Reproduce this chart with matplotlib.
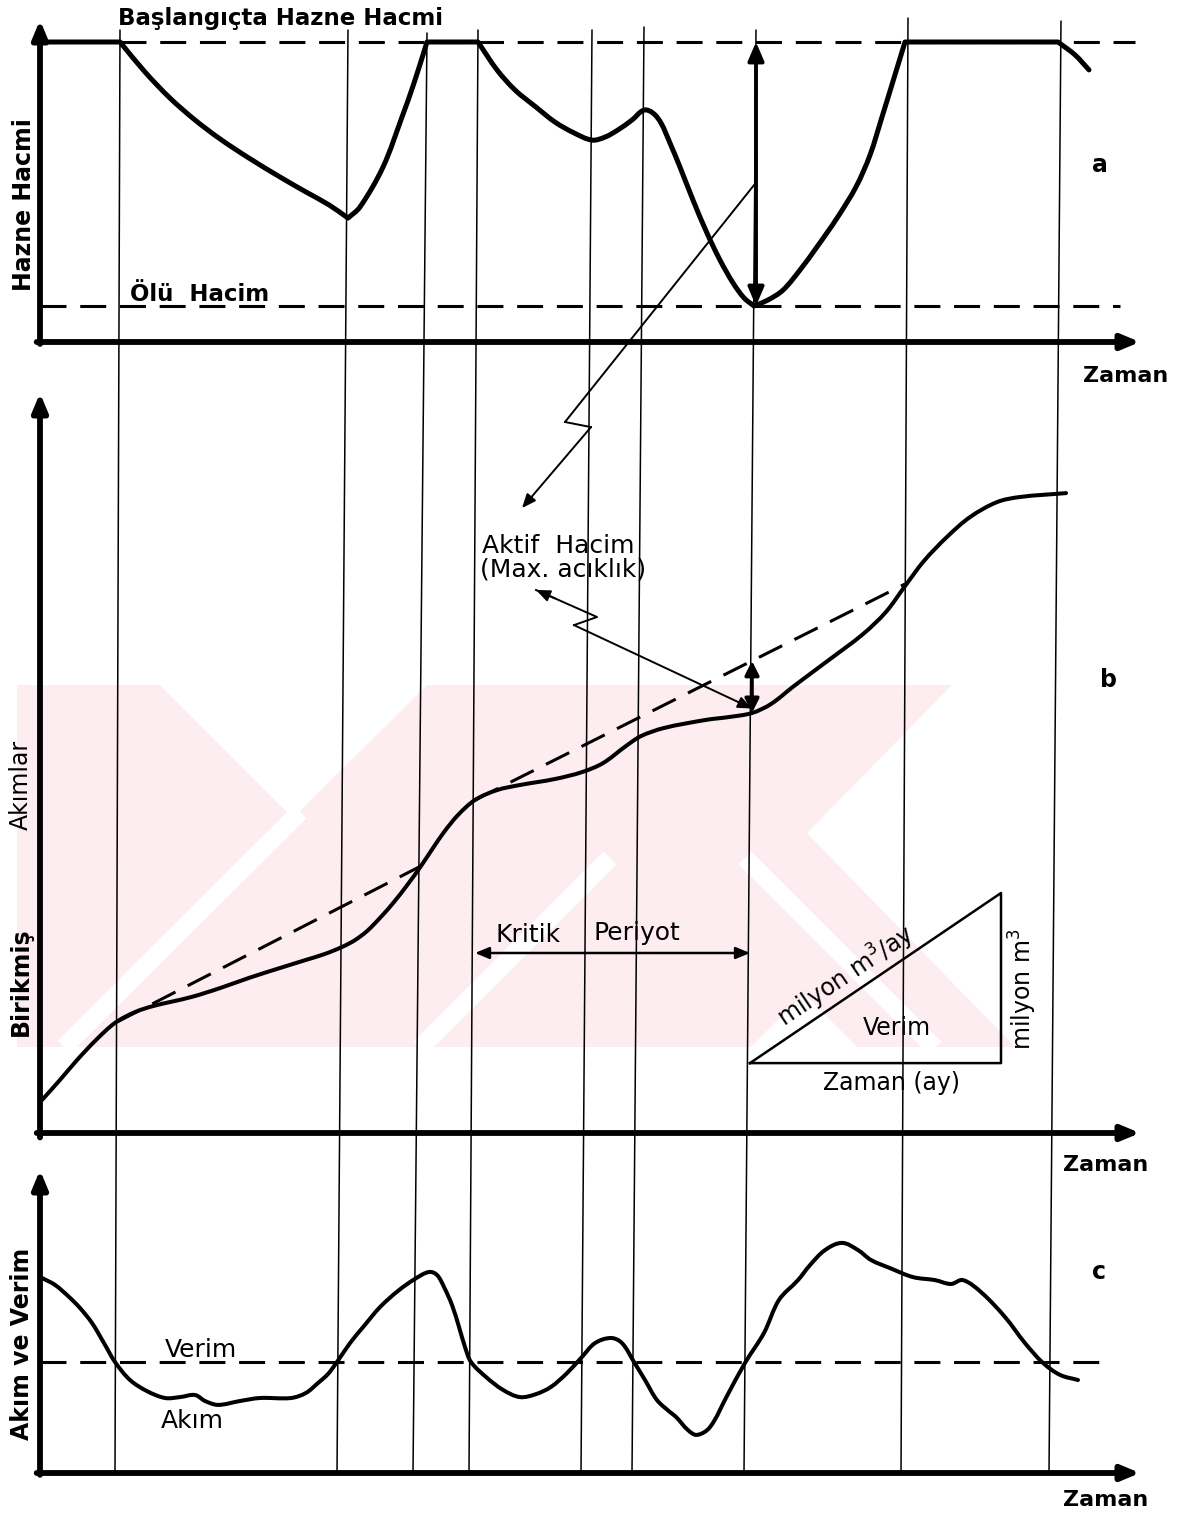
import numpy as np
import matplotlib.pyplot as plt
from matplotlib.patches import ConnectionPatch, PathPatch, Polygon
from matplotlib.path import Path

plt.rcParams['font.family'] = ['DejaVu Sans']

# ortak zaman ekseni (0-110 birim)
# dönüm noktalarından geçen ince düşey çizgiler: üst panelde ve alt panelde
donum_ust = [8.0, 30.8, 38.7, 43.8, 55.2, 60.4, 71.6, 86.8, 102.1]
donum_alt = [7.5, 29.7, 37.3, 42.9, 54.1, 59.2, 70.4, 86.1, 100.9]
donum_tepe = [104, 104, 103, 104, 104, 105, 104, 108, 107]

# a) hazne hacmi
DOLU = 100
OLU = 12
hazne_t = [0, 8.0, 10.5, 13.0, 15.5, 18.0, 20.9, 24.0, 26.6, 28.9,
           30.8, 32.0, 34.3, 36.2, 37.4, 38.7, 43.8, 45.7, 47.5, 49.6,
           51.5, 53.4, 55.2, 56.5, 57.8, 59.2, 60.4, 61.3, 62.1, 63.0,
           64.0, 65.3, 66.7, 68.0, 69.3, 70.4, 71.4, 72.8, 74.3, 76.0,
           77.7, 79.7, 81.6, 83.0, 84.2, 85.4, 86.5, 101.8, 103.5, 104.9]
hazne_v = [100, 100, 90, 81.3, 74, 67.7, 61.3, 55, 50, 45.7,
           41.3, 45, 58.3, 75, 86.3, 100, 100, 90.7, 84, 78.3,
           73.3, 69.7, 67.3, 68.3, 70.7, 74, 77.3, 76.3, 73, 66.3,
           58.3, 47.3, 36.3, 27.3, 19.7, 14.7, 12, 14, 17.3, 24,
           31.7, 41.3, 51.7, 62.3, 75, 88, 100, 100, 95.7, 90.7]
hazne_kose = [1, 10, 15, 16, 36, 46, 47]

# b) birikmiş akımlar (kütle eğrisi)
birikmis_t = [0.2, 2.0, 3.7, 5.6, 7.5, 9.5, 11.3, 15.1, 18.0, 20.9,
              24.0, 26.6, 28.5, 30.2, 31.5, 32.7, 34.0, 35.4, 36.8, 38.1,
              39.3, 40.4, 41.8, 43.5, 45.7, 48.0, 51.5, 54.2, 56.3, 58.6,
              60.1, 62.4, 66.6, 69.0, 71.2, 73.1, 75.4, 78.9, 82.3, 84.6,
              86.5, 88.4, 90.7, 93.0, 95.7, 98.0, 102.6]
birikmis_v = [11, 17.7, 24.3, 31, 36.7, 40.3, 42.3, 45.3, 48.3, 51.7,
              55, 57.7, 59.7, 62, 64.3, 67.3, 71.7, 77, 83, 89,
              95, 100.3, 106, 111, 114.3, 116, 118, 120.3, 123.3, 129,
              132.3, 135, 137.7, 138.7, 140, 143, 149, 157.7, 166.3, 173.7,
              182.3, 190.7, 198.7, 205.3, 210.3, 212, 213.3]
# verim doğruları (teğetler)
teget1_t = [7.7, 38.1]
teget1_v = [37, 89]
teget2_t = [43.5, 86.5]
teget2_v = [111, 183]
kritik_t = [43.5, 71.0]
aciklik_t = 71.2

# verim üçgeni
ucgen_t = [71.0, 96.1, 96.1, 71.0]
ucgen_v = [23.3, 23.3, 80.0, 23.3]

# c) akım ve verim
VERIM = 37
akim_t = [0.2, 1.5, 2.9, 4.0, 5.2, 6.4, 7.5, 9.0, 10.7, 12.5,
          14.0, 15.5, 16.5, 17.8, 20.0, 22.0, 25.1, 26.6, 27.8, 28.8,
          29.7, 31.0, 32.4, 34.0, 35.8, 37.5, 38.9, 39.7, 40.4, 41.2,
          41.9, 42.5, 43.1, 44.6, 46.3, 48.0, 49.6, 51.1, 52.7, 54.2,
          55.5, 57.1, 58.2, 59.4, 60.5, 61.7, 63.0, 63.6, 64.8, 65.7,
          67.0, 68.7, 70.5, 72.4, 73.9, 75.8, 77.0, 78.5, 80.2, 81.8,
          83.1, 85.0, 87.3, 89.5, 91.1, 92.3, 94.2, 96.5, 98.5, 100.3,
          102.0, 103.8]
akim_v = [65, 62.7, 58.7, 55, 50, 43.3, 37, 31, 27.3, 25,
          25.3, 26, 24, 22.7, 24, 25, 25, 26.7, 30, 33,
          37, 43.3, 49, 55.3, 60.7, 64.7, 67, 66, 62, 56,
          48.7, 42, 37, 32, 27.7, 25.3, 26.3, 28.7, 33.3, 38.7,
          43.3, 45, 43.3, 37, 31, 24.3, 20.3, 18.7, 14.3, 12.7,
          15.3, 25.7, 36.7, 46.7, 57.7, 64.3, 69.3, 74.3, 76.7, 74.3,
          71, 68.3, 65.3, 64.3, 63, 64.3, 60, 52, 43.3, 36.7,
          32.7, 31]

W, H = 1185, 1514
fig = plt.figure(figsize=(W / 100, H / 100), dpi=100)
fig.patch.set_facecolor('white')

# arka plandaki soluk pembe damga (piksel koordinatlarında)
bg = fig.add_axes([0, 0, 1, 1], zorder=-1)
bg.set_xlim(0, W)
bg.set_ylim(H, 0)
bg.set_axis_off()
PEMBE = '#fdedf0'
bg.add_patch(Polygon([(17, 685), (1020, 685), (1020, 1047), (17, 1047)],
                     closed=True, fc=PEMBE, ec='none'))
for ucgen in ([(160, 685), (427, 685), (293, 818)],
              [(952, 685), (1025, 685), (1025, 1050), (1018, 1050), (807, 833)],
              [(748, 1050), (860, 1050), (804, 994)]):
    bg.add_patch(Polygon(ucgen, closed=True, fc='white', ec='none'))
for x, y in (([300, 64], [812, 1047]), ([745, 935], [858, 1048]),
             ([610, 420], [858, 1048])):
    bg.plot(x, y, color='white', lw=13, solid_capstyle='butt')


def panel(alt, ust):
    ax = fig.add_axes([40 / W, (H - alt) / H, 1100 / W, (alt - ust) / H])
    ax.set_xlim(0, 110)
    ax.set_ylim(0, (alt - ust) / 3)
    ax.set_axis_off()
    # eksenler oklu
    ok = dict(arrowstyle='-|>,head_length=0.6,head_width=0.25', mutation_scale=18,
              lw=4.2, color='k', shrinkA=0, shrinkB=0)
    ax.annotate('', xy=(1, 0), xytext=(-0.003, 0), xycoords='axes fraction',
                arrowprops=ok, annotation_clip=False)
    ax.annotate('', xy=(0, 1), xytext=(0, -0.006), xycoords='axes fraction',
                arrowprops=ok, annotation_clip=False)
    return ax


def yumusak(ax, t, v, koseler=(), **kw):
    # noktalardan geçen elle çizilmiş gibi yumuşak eğri (kübik Bezier)
    p = np.column_stack([t, v]) * [10.0, 3.0]
    n = len(p)
    birim = lambda d: d / np.linalg.norm(d)
    d_in = np.zeros_like(p)
    d_out = np.zeros_like(p)
    for i in range(n):
        if i == 0:
            d_in[i] = d_out[i] = birim(p[1] - p[0])
        elif i == n - 1:
            d_in[i] = d_out[i] = birim(p[-1] - p[-2])
        elif i in koseler:
            d_in[i] = birim(p[i] - p[i - 1])
            d_out[i] = birim(p[i + 1] - p[i])
        else:
            d_in[i] = d_out[i] = birim(p[i + 1] - p[i - 1])
    verts = [p[0]]
    codes = [Path.MOVETO]
    for i in range(n - 1):
        L = np.linalg.norm(p[i + 1] - p[i]) / 3
        verts += [p[i] + d_out[i] * L, p[i + 1] - d_in[i + 1] * L, p[i + 1]]
        codes += [Path.CURVE4] * 3
    verts = np.array(verts) / [10.0, 3.0]
    ax.add_patch(PathPatch(Path(verts, codes), fill=False, capstyle='round',
                           joinstyle='round', clip_on=False, zorder=3, **kw))


ax_a = panel(342, 20)
ax_b = panel(1133, 393)
ax_c = panel(1473, 1170)

kesik = dict(color='k', lw=2.2, dashes=(8.5, 4.5), clip_on=False)
ince = dict(color='k', lw=1.4, clip_on=False)
yazi = dict(fontsize=18, color='k')
kalin = dict(fontsize=17, fontweight='bold', color='k')
kucuk_ok = dict(arrowstyle='-|>,head_length=0.6,head_width=0.25',
                mutation_scale=14, lw=1.4, color='k', shrinkA=0, shrinkB=0)

# düşey çizgiler: üst panelden alt panele
for tu, ta, tp in zip(donum_ust, donum_alt, donum_tepe):
    cp = ConnectionPatch(xyA=(tu, tp), coordsA=ax_a.transData,
                         xyB=(ta, 0), coordsB=ax_c.transData,
                         color='k', lw=1.1, zorder=1)
    fig.add_artist(cp)

# ---- a) hazne hacmi ----
ax_a.plot([8.0, 109.5], [DOLU, DOLU], **kesik)
ax_a.plot([0, 108], [OLU, OLU], **kesik)
yumusak(ax_a, hazne_t, hazne_v, hazne_kose, edgecolor='k', lw=3.6)
ax_a.annotate('', xy=(71.6, OLU), xytext=(71.6, DOLU),
              arrowprops=dict(arrowstyle='<|-|>,head_length=0.7,head_width=0.3',
                              mutation_scale=16, lw=2.8, color='k',
                              shrinkA=0, shrinkB=0))
ax_a.text(7.8, 108, 'Başlangıçta Hazne Hacmi', ha='left', va='center',
          fontsize=16.5, fontweight='bold')
ax_a.text(9.0, 13.7, 'Ölü  Hacim', ha='left', va='baseline', fontsize=16.5,
          fontweight='bold')
ax_a.text(-1.6, 45.7, 'Hazne Hacmi', rotation=90, ha='center', va='center', **kalin)
ax_a.text(104.3, -13.3, 'Zaman', ha='left', va='baseline', fontsize=16,
          fontweight='bold')
ax_a.text(106, 59, 'a', ha='center', va='center', fontsize=17, fontweight='bold')

# aktif hacim oku: a panelinden b panelindeki yazıya
cp = ConnectionPatch(xyA=(71.4, 52.3), coordsA=ax_a.transData,
                     xyB=(52.5, 237), coordsB=ax_b.transData, color='k', lw=1.4)
fig.add_artist(cp)
ax_b.plot([52.5, 55.1], [237, 235.3], **ince)
ax_b.annotate('', xy=(48.2, 208.3), xytext=(55.1, 235.3), arrowprops=kucuk_ok)

# ---- b) birikmiş akımlar ----
ax_b.plot(teget1_t, teget1_v, **kesik)
ax_b.plot(teget2_t, teget2_v, **kesik)
yumusak(ax_b, birikmis_t, birikmis_v, edgecolor='k', lw=2.9)

ust = np.interp(aciklik_t, teget2_t, teget2_v)
alt = np.interp(aciklik_t, birikmis_t, birikmis_v)
ax_b.annotate('', xy=(aciklik_t, alt), xytext=(aciklik_t, ust),
              arrowprops=dict(arrowstyle='<|-|>,head_length=0.6,head_width=0.3',
                              mutation_scale=14, lw=2.6, color='k',
                              shrinkA=0, shrinkB=0))
# maksimum açıklık oku
ax_b.plot([49.6, 55.7, 53.4], [181, 172, 169.3], **ince)
ax_b.annotate('', xy=(49.6, 181), xytext=(51.5, 178.2), arrowprops=kucuk_ok)
ax_b.annotate('', xy=(aciklik_t, alt + 1.5), xytext=(53.4, 169.3),
              arrowprops=kucuk_ok)
ax_b.text(44.2, 193.3, 'Aktif  Hacim', ha='left', va='baseline', **yazi)
ax_b.text(44.0, 185.5, '(Max. acıklık)', ha='left', va='baseline', **yazi)

# kritik periyot
ax_b.annotate('', xy=(kritik_t[1], 60), xytext=(kritik_t[0], 60),
              arrowprops=dict(arrowstyle='<|-|>,head_length=0.6,head_width=0.25',
                              mutation_scale=14, lw=1.8, color='k',
                              shrinkA=0, shrinkB=0))
ax_b.text(45.6, 63.7, 'Kritik', ha='left', va='baseline', **yazi)
ax_b.text(55.3, 64.3, 'Periyot', ha='left', va='baseline', **yazi)

# verim üçgeni
ax_b.plot(ucgen_t, ucgen_v, color='k', lw=1.8, clip_on=False)
ax_b.text(80.6, 52.3, 'milyon m$^{3}$/ay', rotation=34, rotation_mode='anchor',
          ha='center', va='center', fontsize=17)
ax_b.text(82.3, 32.7, 'Verim', ha='left', va='baseline', fontsize=17)
ax_b.text(78.3, 14.3, 'Zaman (ay)', ha='left', va='baseline', fontsize=17)
ax_b.text(98.3, 48, 'milyon m$^{3}$', rotation=90, ha='center', va='center',
          fontsize=17)

ax_b.text(-1.9, 50.3, 'Birikmiş', rotation=90, ha='center', va='center', **kalin)
ax_b.text(-1.9, 116, 'Akımlar', rotation=90, ha='center', va='center', fontsize=17)
ax_b.text(102.3, -12.7, 'Zaman', ha='left', va='baseline', fontsize=16,
          fontweight='bold')
ax_b.text(106.8, 151, 'b', ha='center', va='center', fontsize=17, fontweight='bold')

# ---- c) akım ve verim ----
ax_c.plot([0, 107], [VERIM, VERIM], **kesik)
yumusak(ax_c, akim_t, akim_v, edgecolor='k', lw=2.9)
ax_c.text(12.5, 38.7, 'Verim', ha='left', va='baseline', **yazi)
ax_c.text(12.1, 15, 'Akım', ha='left', va='baseline', **yazi)
ax_c.text(-1.8, 43, 'Akım ve Verim', rotation=90, ha='center', va='center', **kalin)
ax_c.text(102.3, -11, 'Zaman', ha='left', va='baseline', fontsize=16,
          fontweight='bold')
ax_c.text(105.9, 67, 'c', ha='center', va='center', fontsize=17, fontweight='bold')

fig.savefig('out.png', dpi=100, facecolor='white')
